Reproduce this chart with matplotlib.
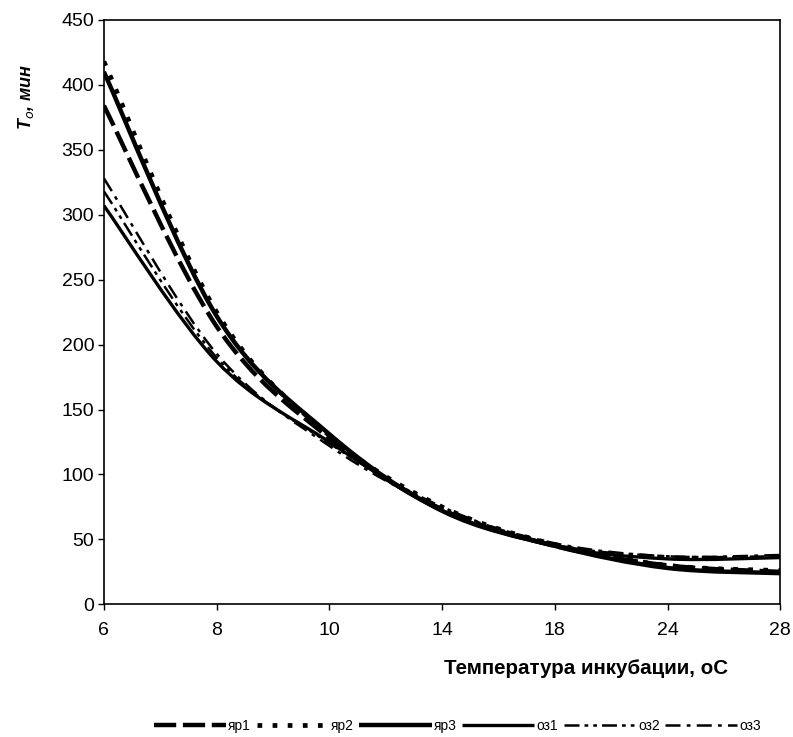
import matplotlib
matplotlib.use("Agg")
import matplotlib.pyplot as plt
import numpy as np
from matplotlib.path import Path
from matplotlib.patches import PathPatch
from matplotlib.lines import Line2D

plt.rcParams["font.family"] = ["Liberation Sans", "DejaVu Sans"]

temps = ["6", "8", "10", "14", "18", "24", "28"]

yar1 = [384, 214, 128, 73, 45, 30, 25]
yar2 = [418, 225, 130, 75, 46, 30, 26]
yar3 = [410, 222, 131, 72, 45, 28, 24]
oz1 = [307, 187, 125, 72, 45, 35, 36]
oz2 = [318, 190, 124, 75, 46, 37, 37]
oz3 = [328, 193, 122, 74, 47, 37, 38]

labels = ["яр1", "яр2", "яр3", "оз1", "оз2", "оз3"]
series = [yar1, yar2, yar3, oz1, oz2, oz3]
styles = [
    dict(lw=3.2, ls=(0, (5, 1.5))),
    dict(lw=3.4, ls=(0, (1, 2.2))),
    dict(lw=3.2, ls="-"),
    dict(lw=2.4, ls="-"),
    dict(lw=1.8, ls=(0, (6, 2, 1.5, 2, 1.5, 2))),
    dict(lw=1.8, ls=(0, (6, 2.5, 1.5, 2.5))),
]


def smooth_path(x, y):
    # Excel-like smoothed line: cubic bezier through the points
    pts = np.column_stack([x, y]).astype(float)
    verts = [pts[0]]
    codes = [Path.MOVETO]
    n = len(pts)
    for i in range(n - 1):
        p0 = pts[i - 1] if i > 0 else pts[i]
        p1 = pts[i]
        p2 = pts[i + 1]
        p3 = pts[i + 2] if i + 2 < n else pts[i + 1]
        c1 = p1 + (p2 - p0) / 6.0
        c2 = p2 - (p3 - p1) / 6.0
        verts += [c1, c2, p2]
        codes += [Path.CURVE4] * 3
    return Path(verts, codes)


fig = plt.figure(figsize=(7.93, 7.37), dpi=100)
ax = fig.add_axes([0.131, 0.180, 0.853, 0.793])

x = np.arange(len(temps))
handles = []
for vals, st, lab in zip(series, styles, labels):
    patch = PathPatch(smooth_path(x, vals), fill=False, edgecolor="black",
                      linewidth=st["lw"], linestyle=st["ls"], capstyle="butt")
    ax.add_patch(patch)
    handles.append(Line2D([], [], color="black", lw=st["lw"], ls=st["ls"],
                          solid_capstyle="butt", dash_capstyle="butt"))

ax.set_xlim(0, len(temps) - 1)
ax.set_ylim(0, 450)
ax.set_xticks(x)
ax.set_xticklabels(temps)
ax.set_yticks(np.arange(0, 451, 50))
ax.tick_params(labelsize=14, length=4, width=1, direction="out")
ax.tick_params(axis="x", pad=9)
ax.tick_params(axis="y", pad=3)
for s in ax.spines.values():
    s.set_linewidth(1.2)

ax.set_xlabel("Температура инкубации, оС", fontsize=14.8, fontweight="bold")
ax.xaxis.set_label_coords(0.713, -0.093)
ax.set_ylabel("T$_o$, мин", fontsize=13, fontweight="bold", style="italic")
ax.yaxis.set_label_coords(-0.10, 0.868)

fig.legend(handles, labels, loc="lower center", bbox_to_anchor=(0.577, -0.012), ncol=6,
           frameon=False, fontsize=10, handlelength=5.2, columnspacing=0.4,
           handletextpad=0.15)

fig.savefig("out.png", dpi=100)
